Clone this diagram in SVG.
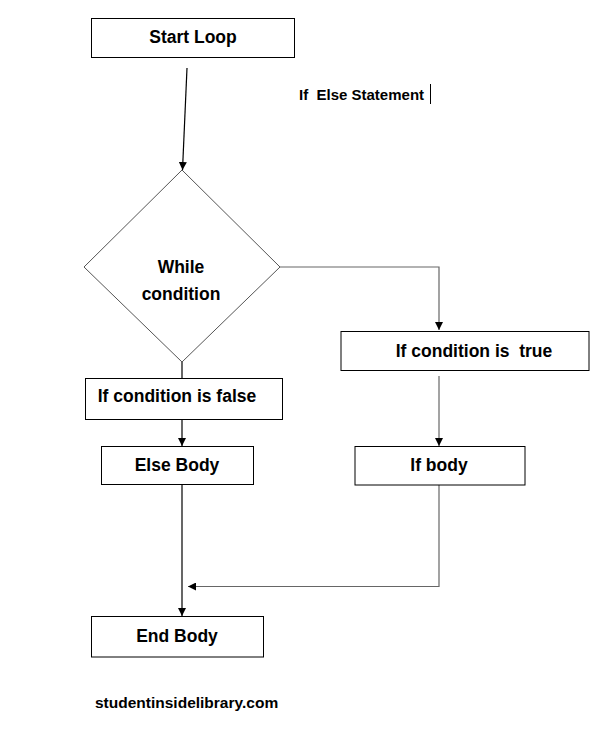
<svg xmlns="http://www.w3.org/2000/svg" width="616" height="743" viewBox="0 0 616 743">
<defs>
<marker id="arr" viewBox="0 0 10 10" refX="10" refY="5" markerWidth="8" markerHeight="8" markerUnits="userSpaceOnUse" orient="auto">
<path d="M0,0 L10,5 L0,10 z" fill="#000"/>
</marker>
</defs>
<style>
.box{fill:#fff;stroke:#000;stroke-width:1}
.dia{fill:#fff;stroke:#555;stroke-width:1}
.t{font-family:"Liberation Sans",Arial,sans-serif;font-weight:bold;font-size:17.5px;fill:#000;text-anchor:middle}
.c{fill:none;stroke:#000;stroke-width:1.2}
.cg{fill:none;stroke:#666;stroke-width:1.2}
</style>
<rect width="616" height="743" fill="#fff"/>
<g id="connectors">
<line class="c" x1="187" y1="68" x2="182.5" y2="170" marker-end="url(#arr)"/>
<polyline class="cg" points="280,267 439,267 439,330" marker-end="url(#arr)"/>
<line class="c" x1="182" y1="361" x2="182" y2="378"/>
<line class="cg" x1="439" y1="376" x2="439" y2="446" marker-end="url(#arr)"/>
<line class="c" x1="182" y1="420" x2="182" y2="446" marker-end="url(#arr)"/>
<line class="c" x1="182" y1="484" x2="182" y2="616" marker-end="url(#arr)"/>
<polyline class="cg" points="439,485 439,586.5 188,586.5" marker-end="url(#arr)"/>
</g>
<g id="start">
<rect class="box" x="91.5" y="18.5" width="203" height="39"/>
<text class="t" x="193" y="43">Start Loop</text>
</g>
<g id="title">
<text class="t" x="299" y="100" style="text-anchor:start;font-size:15px" xml:space="preserve">If  Else Statement</text>
<line x1="430.5" y1="84" x2="430.5" y2="104" stroke="#000" stroke-width="1"/>
</g>
<g id="while">
<polygon class="dia" points="182,170 280,267 182,362 84,267"/>
<text class="t" x="181" y="273">While</text>
<text class="t" x="181" y="300">condition</text>
</g>
<g id="true">
<rect class="box" x="341" y="331.5" width="248" height="39"/>
<text class="t" x="474" y="357" xml:space="preserve">If condition is  true</text>
</g>
<g id="false">
<rect class="box" x="85.5" y="378.5" width="197" height="41"/>
<text class="t" x="177" y="402">If condition  is false</text>
</g>
<g id="else">
<rect class="box" x="101.5" y="446.5" width="152" height="38"/>
<text class="t" x="177" y="471">Else Body</text>
</g>
<g id="ifbody">
<rect class="box" x="355" y="446.5" width="170" height="38.5"/>
<text class="t" x="439" y="471">If body</text>
</g>
<g id="end">
<rect class="box" x="91.5" y="616.5" width="172" height="40.5"/>
<text class="t" x="177" y="642">End Body</text>
</g>
<g id="footer">
<text class="t" x="95" y="708" style="text-anchor:start;font-size:15.5px">studentinsidelibrary.com</text>
</g>
</svg>
